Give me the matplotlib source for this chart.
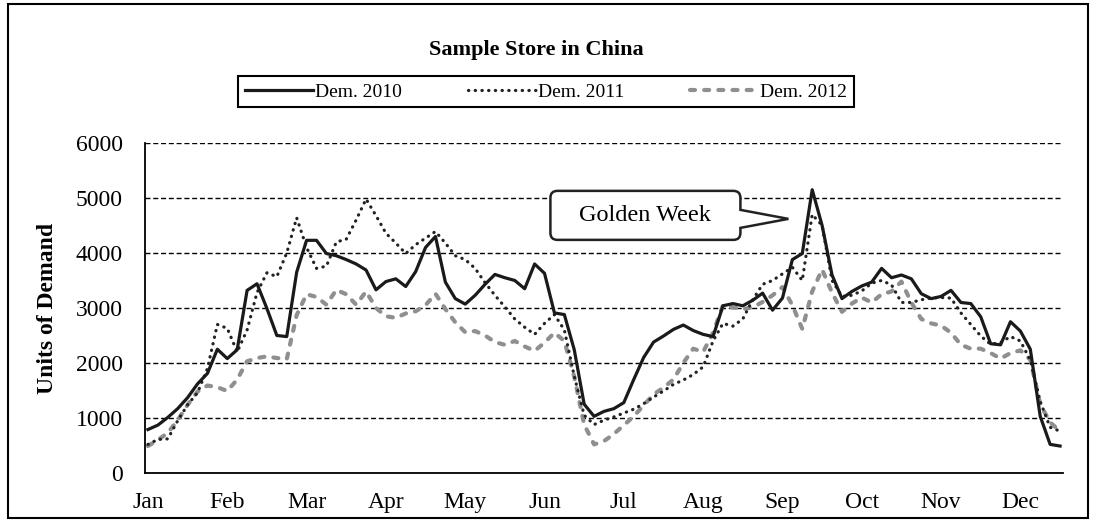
import numpy as np
import matplotlib.pyplot as plt
import matplotlib.transforms as mtransforms
from matplotlib.path import Path
from matplotlib.patches import PathPatch, Rectangle

# Demande par periode (93 points sur l'annee)
months = ['Jan', 'Feb', 'Mar', 'Apr', 'May', 'Jun',
          'Jul', 'Aug', 'Sep', 'Oct', 'Nov', 'Dec']

dem_2010 = [790, 870, 1010, 1170, 1370, 1620, 1810, 2250, 2080, 2240,
            3320, 3440, 2990, 2500, 2480, 3650, 4230, 4230, 3990, 3950,
            3880, 3800, 3690, 3330, 3480, 3530, 3390, 3660, 4100, 4300,
            3470, 3170, 3070, 3230, 3430, 3610, 3550, 3500, 3350, 3800,
            3630, 2910, 2880, 2240, 1250, 1030, 1120, 1170, 1280, 1700,
            2100, 2380, 2490, 2610, 2690, 2590, 2520, 2480, 3040, 3080,
            3040, 3140, 3270, 2960, 3180, 3880, 3990, 5150, 4500, 3600,
            3170, 3300, 3400, 3470, 3720, 3550, 3600, 3530, 3260, 3170,
            3210, 3320, 3100, 3080, 2840, 2350, 2330, 2750, 2580, 2250,
            1030, 520, 490]

dem_2011 = [520, 610, 620, 950, 1240, 1460, 1900, 2700, 2630, 2200,
            2600, 3280, 3640, 3570, 4000, 4640, 4100, 3720, 3760, 4200,
            4250, 4600, 4980, 4680, 4360, 4180, 3990, 4150, 4270, 4390,
            4180, 3950, 3880, 3720, 3460, 3230, 3020, 2800, 2650, 2520,
            2720, 2880, 2600, 1760, 1050, 880, 960, 1020, 1090, 1160,
            1260, 1380, 1490, 1610, 1690, 1790, 1930, 2400, 2720, 2670,
            2800, 3150, 3430, 3500, 3620, 3740, 3500, 4700, 4500, 3500,
            3210, 3230, 3310, 3450, 3500, 3420, 3100, 3100, 3150, 3180,
            3190, 3180, 2910, 2700, 2490, 2340, 2370, 2480, 2400, 2050,
            1300, 830, 760]

dem_2012 = [490, 600, 730, 960, 1240, 1480, 1590, 1560, 1490, 1700,
            2030, 2090, 2120, 2090, 2070, 2870, 3250, 3200, 3060, 3330,
            3250, 3060, 3300, 3000, 2850, 2820, 2900, 2940, 3050, 3260,
            2980, 2740, 2560, 2580, 2500, 2380, 2330, 2400, 2300, 2220,
            2370, 2550, 2400, 1750, 880, 520, 580, 710, 870, 1030,
            1230, 1430, 1550, 1700, 2000, 2260, 2200, 2550, 3050, 3010,
            2980, 3010, 3110, 3230, 3380, 3050, 2620, 3300, 3700, 3280,
            2930, 3080, 3190, 3100, 3250, 3300, 3480, 3100, 2800, 2720,
            2680, 2550, 2330, 2260, 2260, 2180, 2080, 2180, 2230, 2060,
            1250, 920, 760]

periods = np.arange(len(dem_2010))

plt.rcParams['font.family'] = ['Liberation Serif', 'DejaVu Serif']

fig = plt.figure(figsize=(10.95, 5.27), dpi=100)
ax = fig.add_axes([0.1324, 0.1025, 0.8384, 0.6262])

l1, = ax.plot(periods, dem_2010, color='#1a1a1a', lw=2.3, zorder=4,
              solid_joinstyle='round')
l2, = ax.plot(periods, dem_2011, color='#222222', lw=2.3, zorder=3,
              linestyle=(0, (0.1, 2.0)), dash_capstyle='round')
l3, = ax.plot(periods, dem_2012, color='#8f8f8f', lw=3.0, zorder=2,
              linestyle=(0, (1.2, 2.2)), dash_capstyle='round')

ax.set_ylim(0, 6000)
ax.set_xlim(-0.3, len(dem_2010) - 0.7)
ax.set_yticks(np.arange(0, 6001, 1000))
ax.set_xticks(periods[::8][:len(months)])
ax.set_xticklabels(months)
ax.tick_params(axis='both', length=0, labelsize=17)
ax.tick_params(axis='y', pad=16)
ax.tick_params(axis='x', pad=14)

ax.yaxis.grid(True, color='black', lw=1.0, linestyle=(0, (3.6, 2.0)))
ax.set_axisbelow(True)
for side in ['top', 'right']:
    ax.spines[side].set_visible(False)
for side in ['left', 'bottom']:
    ax.spines[side].set_linewidth(1.3)

ax.set_ylabel('Units of Demand', fontsize=17, fontweight='bold')
ax.yaxis.set_label_coords(-0.095, 0.5)

fig.text(0.49, 0.906, 'Sample Store in China', ha='center', va='center',
         fontsize=16, fontweight='bold')

leg = fig.legend([l1, l2, l3], ['Dem. 2010', 'Dem. 2011', 'Dem. 2012'],
                 loc='center', bbox_to_anchor=(0.4985, 0.826), ncol=3,
                 fontsize=14, handlelength=3.5, handletextpad=0.1,
                 columnspacing=3.4, fancybox=False, edgecolor='black',
                 borderpad=0.35, framealpha=1)
leg.get_frame().set_linewidth(1.5)

# Bulle "Golden Week" pointant vers le pic de septembre
def callout(L, R, B, T, r, a_top, a_bot):
    verts = [(L + r, T), (R - r, T), (R, T), (R, T - r),
             (R, a_top), (0, 0), (R, a_bot),
             (R, B + r), (R, B), (R - r, B),
             (L + r, B), (L, B), (L, B + r),
             (L, T - r), (L, T), (L + r, T), (L + r, T)]
    codes = [Path.MOVETO, Path.LINETO, Path.CURVE3, Path.CURVE3,
             Path.LINETO, Path.LINETO, Path.LINETO,
             Path.LINETO, Path.CURVE3, Path.CURVE3,
             Path.LINETO, Path.CURVE3, Path.CURVE3,
             Path.LINETO, Path.CURVE3, Path.CURVE3, Path.CLOSEPOLY]
    return Path(verts, codes)

tip = (64.6, 4620)
box = dict(L=-238, R=-48, B=-21, T=28)
trans = (mtransforms.Affine2D().scale(fig.dpi / 100)
         + mtransforms.ScaledTranslation(tip[0], tip[1], ax.transData))
ax.add_patch(PathPatch(callout(r=7, a_top=9, a_bot=-9, **box),
                       transform=trans, fc='white', ec='#222222', lw=1.8,
                       zorder=6, clip_on=False))
ax.annotate('Golden Week', xy=tip, xycoords='data',
            xytext=((box['L'] + box['R']) / 2 * 0.72,
                    (box['B'] + box['T']) / 2 * 0.72),
            textcoords='offset points', ha='center', va='center',
            fontsize=17.5, zorder=7)

# cadre exterieur du graphique
fig.patches.append(Rectangle((8 / 1095, 1 - 518 / 527), 1080 / 1095, 514 / 527,
                             transform=fig.transFigure, fill=False,
                             ec='black', lw=1.5))

fig.savefig('out.png', dpi=100)
